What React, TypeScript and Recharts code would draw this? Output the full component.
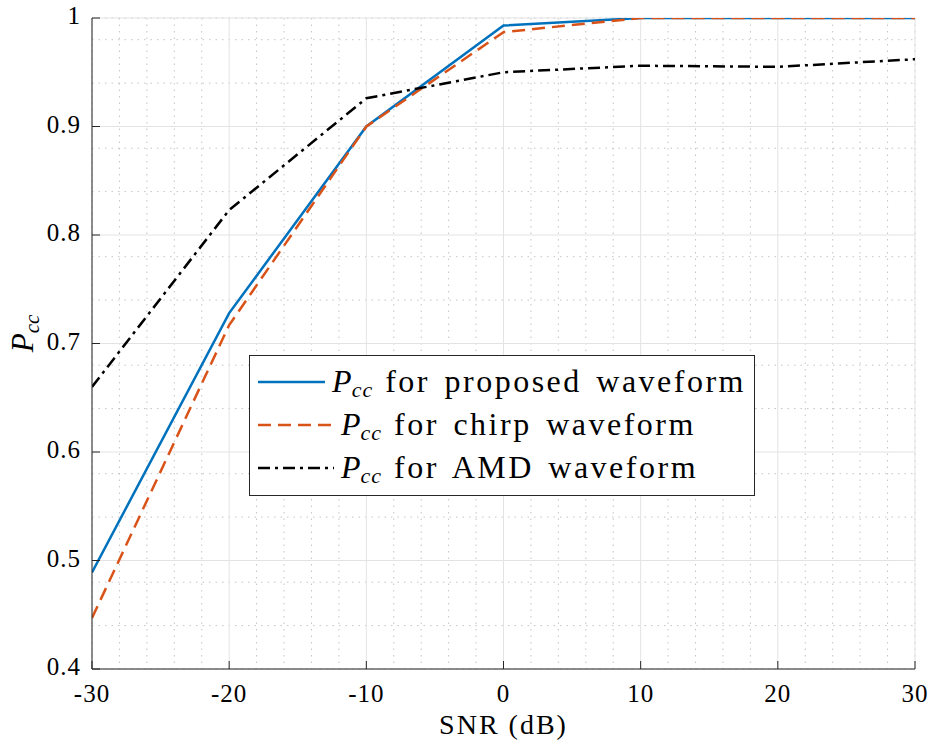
import React from 'react'
import { LineChart, Line, XAxis, YAxis, CartesianGrid, Legend } from 'recharts'

const SNR = [-30, -20, -10, 0, 10, 20, 30]
const PROPOSED = [0.489, 0.728, 0.9, 0.993, 1, 1, 1]
const CHIRP = [0.447, 0.717, 0.9, 0.987, 1, 1, 1]
const AMD = [0.66, 0.823, 0.926, 0.95, 0.956, 0.955, 0.962]

const X_TICKS = [-30, -20, -10, 0, 10, 20, 30]
const Y_TICKS = [0.4, 0.5, 0.6, 0.7, 0.8, 0.9, 1]
const X_MINOR = [-28, -26, -24, -22, -18, -16, -14, -12, -8, -6, -4, -2, 2, 4, 6, 8, 12, 14, 16, 18, 22, 24, 26, 28]
const Y_MINOR = [0.42, 0.44, 0.46, 0.48, 0.52, 0.54, 0.56, 0.58, 0.62, 0.64, 0.66, 0.68, 0.72, 0.74, 0.76, 0.78, 0.82, 0.84, 0.86, 0.88, 0.92, 0.94, 0.96, 0.98]

const SERIES = [
  { key: 'proposed', label: 'proposed', color: '#0072BD', dash: undefined },
  { key: 'chirp', label: 'chirp', color: '#D95319', dash: '13 7' },
  { key: 'amd', label: 'AMD', color: '#000000', dash: '12 5 3 5' },
]

const data = SNR.map((snr, i) => ({
  snr,
  proposed: PROPOSED[i],
  chirp: CHIRP[i],
  amd: AMD[i],
}))

const FONT = 'Liberation Serif, DejaVu Serif, serif'
const AXIS = '#262626'
const TICK_LEN = 8

const BottomTick = (props: any) => {
  const { x, y, payload } = props
  return (
    <g>
      <line x1={x} x2={x} y1={y} y2={y - TICK_LEN} stroke={AXIS} />
      <text x={x} y={y + 33} textAnchor="middle" fontFamily={FONT} fontSize={25} letterSpacing={1} fill="#000">
        {payload.value}
      </text>
    </g>
  )
}

const TopTick = (props: any) => {
  const { x, y } = props
  return <line x1={x} x2={x} y1={y} y2={y + TICK_LEN} stroke={AXIS} />
}

const LeftTick = (props: any) => {
  const { x, y, payload } = props
  return (
    <g>
      <line x1={x} x2={x + TICK_LEN} y1={y} y2={y} stroke={AXIS} />
      <text x={x - 11} y={y + 6} textAnchor="end" fontFamily={FONT} fontSize={25} letterSpacing={1} fill="#000">
        {payload.value}
      </text>
    </g>
  )
}

const RightTick = (props: any) => {
  const { x, y } = props
  return <line x1={x} x2={x - TICK_LEN} y1={y} y2={y} stroke={AXIS} />
}

const YLabel = (props: any) => {
  const { viewBox } = props
  const cx = viewBox.x + 21
  const cy = viewBox.y + viewBox.height / 2 - 10
  return (
    <text transform={`translate(${cx},${cy}) rotate(-90)`} textAnchor="middle" fontFamily={FONT} fontSize={31} fill="#000">
      <tspan fontStyle="italic">P</tspan>
      <tspan fontStyle="italic" fontSize={21} dy={6}>cc</tspan>
    </text>
  )
}

const XLabel = (props: any) => {
  const { viewBox } = props
  return (
    <text
      x={viewBox.x + viewBox.width / 2}
      y={viewBox.y + 65}
      textAnchor="middle"
      fontFamily={FONT}
      fontSize={28}
      letterSpacing={2}
      fill="#000"
    >
      SNR (dB)
    </text>
  )
}

const LegendBox = () => (
  <div
    style={{
      border: `1px solid ${AXIS}`,
      background: '#fff',
      padding: '4px 8px 6px 8px',
      fontFamily: FONT,
      fontSize: 32,
      color: '#000',
      boxSizing: 'border-box',
      width: 506,
    }}
  >
    {SERIES.map(s => (
      <div key={s.key} style={{ display: 'flex', alignItems: 'center', height: 43, whiteSpace: 'nowrap' }}>
        <svg width={76} height={20} style={{ marginRight: 7 }}>
          <line x1={0} x2={76} y1={10} y2={10} stroke={s.color} strokeWidth={2.5} strokeDasharray={s.dash} />
        </svg>
        <span style={{ fontStyle: 'italic' }}>P</span>
        <span style={{ fontStyle: 'italic', fontSize: 22, position: 'relative', top: 8, marginRight: 12, letterSpacing: 1 }}>cc</span>
        <span style={{ letterSpacing: 2.5, wordSpacing: 4 }}>for {s.label} waveform</span>
      </div>
    ))}
  </div>
)

export default function App() {
  return (
    <div style={{ position: 'absolute', left: 0, top: 0, width: 930, height: 744, background: '#fff' }}>
      <LineChart width={930} height={744} data={data} margin={{ top: 18, right: 15, bottom: 0, left: 12 }}>
        <XAxis xAxisId="minor" type="number" dataKey="snr" domain={[-30, 30]} ticks={X_MINOR} hide allowDataOverflow />
        <YAxis yAxisId="minor" type="number" domain={[0.4, 1]} ticks={Y_MINOR} hide allowDataOverflow />
        <CartesianGrid xAxisId="minor" yAxisId="minor" stroke="#c4c4c4" strokeDasharray="1.5 5" />
        <CartesianGrid stroke="#e3e3e3" />
        <XAxis
          type="number"
          dataKey="snr"
          domain={[-30, 30]}
          ticks={X_TICKS}
          height={75}
          tickSize={0}
          tickMargin={0}
          tick={<BottomTick />}
          axisLine={{ stroke: AXIS }}
          allowDataOverflow
          label={<XLabel />}
        />
        <XAxis
          xAxisId="top"
          orientation="top"
          type="number"
          dataKey="snr"
          domain={[-30, 30]}
          ticks={X_TICKS}
          height={0}
          tickSize={0}
          tickMargin={0}
          tick={<TopTick />}
          axisLine={{ stroke: AXIS }}
          allowDataOverflow
        />
        <YAxis
          type="number"
          domain={[0.4, 1]}
          ticks={Y_TICKS}
          width={80}
          tickSize={0}
          tickMargin={0}
          tick={<LeftTick />}
          axisLine={{ stroke: AXIS }}
          allowDataOverflow
          label={<YLabel />}
        />
        <YAxis
          yAxisId="right"
          orientation="right"
          type="number"
          domain={[0.4, 1]}
          ticks={Y_TICKS}
          width={0}
          tickSize={0}
          tickMargin={0}
          tick={<RightTick />}
          axisLine={{ stroke: AXIS }}
          allowDataOverflow
        />
        {SERIES.map(s => (
          <Line
            key={s.key}
            dataKey={s.key}
            type="linear"
            stroke={s.color}
            strokeWidth={2.5}
            strokeDasharray={s.dash}
            dot={false}
            isAnimationActive={false}
          />
        ))}
        <Legend
          layout="horizontal"
          verticalAlign="middle"
          align="center"
          content={<LegendBox />}
          wrapperStyle={{ left: 249, top: 355, width: 506 }}
        />
      </LineChart>
    </div>
  )
}
